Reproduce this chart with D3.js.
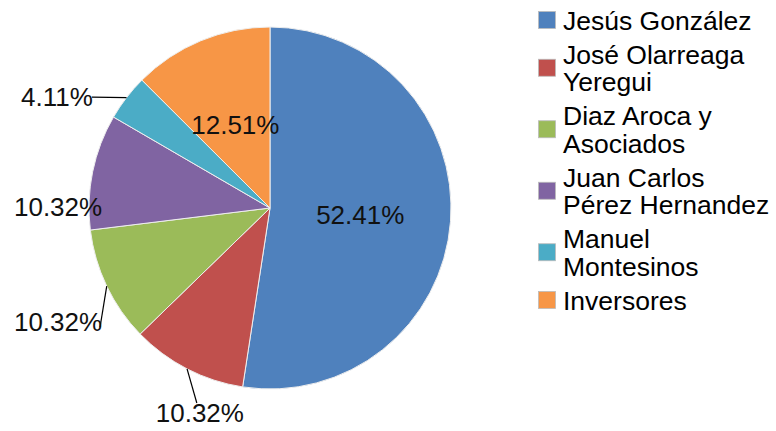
<!DOCTYPE html>
<html>
<head>
<meta charset="utf-8">
<script src="https://cdn.jsdelivr.net/npm/d3@7"></script>
<style>
  body { margin: 0; background: #fff; }
  text { font-family: "Liberation Sans", Arial, sans-serif; }
</style>
</head>
<body>
<div id="chart"></div>
<script>
// slice data, clockwise from 12 o'clock
const names = ["Jesús González", "José Olarreaga Yeregui", "Diaz Aroca y Asociados",
               "Juan Carlos Pérez Hernandez", "Manuel Montesinos", "Inversores"];
const legendLines = [["Jesús González"], ["José Olarreaga", "Yeregui"], ["Diaz Aroca y", "Asociados"],
                     ["Juan Carlos", "Pérez Hernandez"], ["Manuel", "Montesinos"], ["Inversores"]];
const shares = [52.41, 10.32, 10.32, 10.32, 4.11, 12.51];
const colors = ["#4F81BD", "#C0504D", "#9BBB59", "#8064A2", "#4BACC6", "#F79646"];

const width = 776, height = 431;
const cx = 270, cy = 208, radius = 181;

// where the outside labels sit (angle in degrees from top, distance as part of radius)
// lead = end of leader line relative to the label centre, null = no line
const labelSpots = [
  null,
  { angle: 198.9, dist: 1.197, lead: [-3, -10] },
  { angle: 241.7, dist: 1.33, lead: [42, 5] },
  { angle: 270.5, dist: 1.171, lead: null },
  { angle: 297.5, dist: 1.327, lead: [35, 0] },
  null
];

const svg = d3.select("#chart").append("svg")
  .attr("width", width)
  .attr("height", height);

const pie = d3.pie().sort(null).value(d => d)(shares);
const arc = d3.arc().innerRadius(0).outerRadius(radius);

const g = svg.append("g").attr("transform", `translate(${cx},${cy})`);

g.selectAll("path")
  .data(pie)
  .enter().append("path")
    .attr("d", arc)
    .attr("fill", (d, i) => colors[i])
    .attr("stroke", "#eeeeee")
    .attr("stroke-width", 1);

function polar(angDeg, dist) {
  const a = angDeg * Math.PI / 180;
  return [Math.sin(a) * dist, -Math.cos(a) * dist];
}

pie.forEach((d, i) => {
  const label = d3.format(".2f")(shares[i]) + "%";
  const spot = labelSpots[i];
  let pos;
  if (!spot) {
    pos = arc.centroid(d);
  } else {
    pos = polar(spot.angle, spot.dist * radius);
    if (spot.lead) {
      const mid = (d.startAngle + d.endAngle) / 2 * 180 / Math.PI;
      const start = polar(mid, radius);
      g.append("line")
        .attr("x1", start[0]).attr("y1", start[1])
        .attr("x2", pos[0] + spot.lead[0]).attr("y2", pos[1] + spot.lead[1])
        .attr("stroke", "#000")
        .attr("stroke-width", 1.2);
    }
  }
  g.append("text")
    .attr("x", pos[0])
    .attr("y", pos[1])
    .attr("dy", "0.36em")
    .attr("text-anchor", "middle")
    .attr("font-size", 26)
    .attr("fill", "#111")
    .text(label);
});

// legend
const legend = svg.append("g");
const lineH = 27.5, gapH = 6.5;
let yy = 20;
legendLines.forEach((lines, i) => {
  const first = yy;
  lines.forEach((t, k) => {
    legend.append("text")
      .attr("x", 563)
      .attr("y", yy)
      .attr("dy", "0.36em")
      .attr("font-size", 26.5)
      .attr("fill", "#000")
      .text(t);
    if (k < lines.length - 1) yy += lineH;
  });
  const midY = (first + yy) / 2;
  legend.append("rect")
    .attr("x", 538.5)
    .attr("y", midY - 8.5)
    .attr("width", 17)
    .attr("height", 17)
    .attr("fill", colors[i])
    .attr("stroke", "#bbb")
    .attr("stroke-width", 0.8);
  yy += lineH + gapH;
});
</script>
</body>
</html>
